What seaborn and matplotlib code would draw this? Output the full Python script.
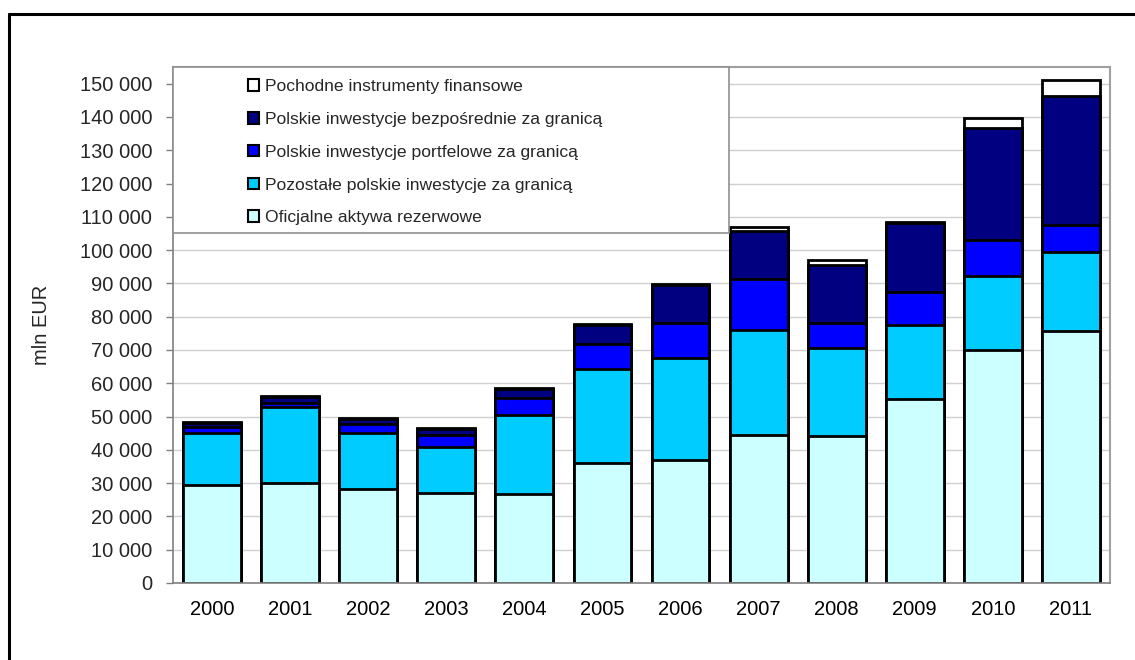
import numpy as np
import pandas as pd
import matplotlib
matplotlib.use("Agg")
import matplotlib.pyplot as plt
from matplotlib.patches import Patch, Rectangle
from matplotlib.lines import Line2D
from matplotlib.ticker import FuncFormatter
import seaborn as sns

years = ["2000", "2001", "2002", "2003", "2004", "2005",
         "2006", "2007", "2008", "2009", "2010", "2011"]
reserves = [29500, 30000, 28300, 27000, 26800, 35900, 36800, 44600, 44100, 55200, 70000, 75700]
other = [15600, 22900, 16800, 14000, 23700, 28500, 30800, 31500, 26600, 22200, 22200, 23600]
portfolio = [1700, 1300, 2700, 3500, 5100, 7500, 10500, 15100, 7500, 9900, 10800, 8300]
direct = [1200, 1600, 1500, 1800, 2700, 5700, 11400, 14600, 17300, 20700, 33700, 38600]
derivatives = [300, 300, 200, 200, 200, 300, 300, 1000, 1500, 400, 3000, 4800]

labels = ["Oficjalne aktywa rezerwowe",
          "Pozostałe polskie inwestycje za granicą",
          "Polskie inwestycje portfelowe za granicą",
          "Polskie inwestycje bezpośrednie za granicą",
          "Pochodne instrumenty finansowe"]
colors = ["#CCFFFF", "#00CCFF", "#0000FF", "#000080", "#FFFFFF"]
series = [reserves, other, portfolio, direct, derivatives]

sns.set_style("white")
plt.rcParams["font.family"] = ["Liberation Sans", "DejaVu Sans"]

W, H = 1135, 660
fig = plt.figure(figsize=(W / 100, H / 100), dpi=100)
L, R, T, B = 173, 1110, 67, 583
ax = fig.add_axes([L / W, 1 - B / H, (R - L) / W, (B - T) / H])

df = pd.DataFrame({"year": years})
cum = np.cumsum(np.array(series), axis=0)
for i in range(len(series) - 1, -1, -1):
    df["v"] = cum[i]
    sns.barplot(data=df, x="year", y="v", color=colors[i], saturation=1,
                edgecolor="black", linewidth=2.0, width=0.74, ax=ax, zorder=2)

ax.set_xlim(-0.5, 11.5)
ax.set_ylim(0, 155000)
ax.set_yticks(np.arange(0, 150001, 10000))
ax.yaxis.set_major_formatter(FuncFormatter(lambda v, p: f"{int(v):,}".replace(",", " ")))
ax.set_xticks(np.arange(-0.5, 12, 1), minor=True)
ax.tick_params(axis="x", which="major", length=0, pad=12, labelsize=14.5, colors="black")
ax.tick_params(axis="x", which="minor", length=6, width=1, color="#808080", direction="out")
ax.tick_params(axis="y", which="major", length=5, width=1, color="#808080", pad=10,
               labelsize=14.5, direction="out", left=True)
ax.yaxis.grid(True, color="#D0D0D0", linewidth=1)
ax.set_axisbelow(True)
ax.set_xlabel("")
ax.set_ylabel("mln EUR", fontsize=14.5)
ax.yaxis.set_label_coords((51 - L) / (R - L), 0.5)
for s in ["left", "bottom"]:
    ax.spines[s].set_color("#808080")
    ax.spines[s].set_linewidth(1.2)
for s in ["top", "right"]:
    ax.spines[s].set_color("#A0A0A0")
    ax.spines[s].set_linewidth(1.5)

# legend background box
box = Rectangle((L / W, 1 - 233 / H), (729 - L) / W, (233 - T) / H,
                transform=fig.transFigure, facecolor="white", edgecolor="#909090",
                linewidth=1.2, zorder=5)
ax.add_patch(box)
box.set_clip_on(False)

handles = [Patch(facecolor=colors[i], edgecolor="black", linewidth=1.5, label=labels[i])
           for i in range(len(labels) - 1, -1, -1)]
leg = fig.legend(handles=handles, loc="upper left",
                 bbox_to_anchor=(248 / W, 1 - 79 / H), bbox_transform=fig.transFigure,
                 frameon=False, fontsize=12.6, handlelength=0.65, handleheight=0.65,
                 handletextpad=0.3, labelspacing=1.02, borderpad=0, borderaxespad=0)
leg.set_zorder(10)

# outer border (top and left)
fig.add_artist(Line2D([9 / W, 1.0], [1 - 14 / H, 1 - 14 / H], transform=fig.transFigure,
                      color="black", linewidth=2.2))
fig.add_artist(Line2D([9 / W, 9 / W], [0.0, 1 - 14 / H], transform=fig.transFigure,
                      color="black", linewidth=2.2))

fig.savefig("out.png", dpi=100)
